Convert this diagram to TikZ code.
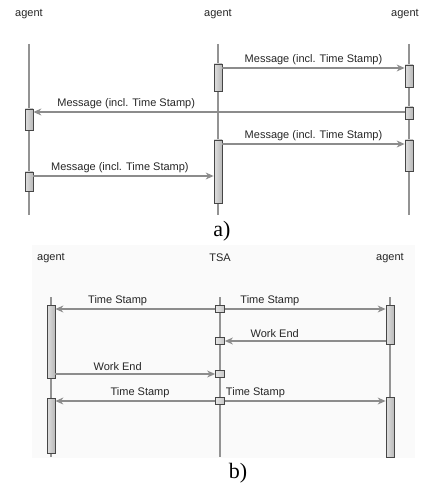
\documentclass[tikz,border=0pt]{standalone}
\usepackage{fontspec}
\setmainfont{Liberation Serif}
\setsansfont{Liberation Sans}
\usetikzlibrary{arrows.meta}

\begin{document}
\begin{tikzpicture}[x=1pt,y=-1pt,>={Stealth[length=8pt,width=7pt]},
  lbl/.style={font=\sffamily\fontsize{11}{13}\selectfont,text=black!85,inner sep=2.5pt},
  life/.style={draw=gray!85,line width=1.1pt},
  act/.style={draw=gray!55!black,left color=gray!25,right color=gray!55,minimum width=8pt,inner sep=0pt,line width=0.8pt},
  tsa/.style={draw=gray!55!black,left color=gray!20,right color=gray!45,minimum width=9pt,minimum height=7pt,inner sep=0pt,line width=0.8pt},
  msg/.style={->,draw=gray!90,line width=1.1pt},
  sub/.style={font=\fontsize{22}{24}\selectfont}]
  \useasboundingbox (0,0) rectangle (421,486);
  % a)
  \node[lbl] (ha1) at (29,14) {agent};
  \node[lbl] (ha2) at (218,14) {agent};
  \node[lbl] (ha3) at (405,14) {agent};
  \draw[life] (ha1 |- 0,44) -- (ha1 |- 0,215);
  \draw[life] (ha2 |- 0,44) -- (ha2 |- 0,215);
  \draw[life] (409,44) -- (409,215);
  \node[act,minimum height=27pt] (bm1) at (218,77.5) {};
  \node[act,minimum height=22pt] (br1) at (409,76) {};
  \node[act,minimum height=12pt] (br2) at (409,113) {};
  \node[act,minimum height=21pt] (bl1) at (29,119.5) {};
  \node[act,minimum height=63pt] (bm2) at (218,171.5) {};
  \node[act,minimum height=31pt] (br3) at (409,155.5) {};
  \node[act,minimum height=19pt] (bl2) at (29,181.5) {};
  \draw[msg] (bm1.east |- 0,68) -- node[lbl,above]{Message (incl. Time Stamp)} (br1.west |- 0,68);
  \draw[msg] (br2.west |- 0,112) -- node[lbl,above,pos=0.75]{Message (incl. Time Stamp)} (bl1.east |- 0,112);
  \draw[msg] (bm2.east |- 0,144) -- node[lbl,above]{Message (incl. Time Stamp)} (br3.west |- 0,144);
  \draw[msg] (bl2.east |- 0,176) -- node[lbl,above,pos=0.48]{Message (incl. Time Stamp)} (bm2.west |- 0,176);
  \node[sub] (sa) at (222,231) {a)};
  % b)
  \fill[black!2] (32,245) rectangle (415,458);
  \node[lbl] (hb1) at (51,258) {agent};
  \node[lbl] (hb2) at (220,258) {TSA};
  \node[lbl] (hb3) at (390,258) {agent};
  \draw[life] (hb1 |- 0,297) -- (hb1 |- 0,457);
  \draw[life] (hb2 |- 0,297) -- (hb2 |- 0,457);
  \draw[life] (hb3 |- 0,297) -- (hb3 |- 0,457);
  \node[act,minimum height=73pt] (cl1) at (51,341.5) {};
  \node[act,minimum height=55pt] (cl2) at (51,425.5) {};
  \node[act,minimum height=39pt] (cr1) at (390,324.5) {};
  \node[act,minimum height=60pt] (cr2) at (390,427) {};
  \node[tsa] (ct1) at (220,309) {};
  \node[tsa] (ct2) at (220,341) {};
  \node[tsa] (ct3) at (220,374) {};
  \node[tsa] (ct4) at (220,401) {};
  \draw[msg] (ct1.west) -- node[lbl,above,pos=0.61]{Time Stamp} (cl1.east |- ct1);
  \draw[msg] (ct1.east) -- node[lbl,above,pos=0.28]{Time Stamp} (cr1.west |- ct1);
  \draw[msg] (cr1.west |- ct2) -- node[lbl,above,pos=0.69]{Work End} (ct2.east);
  \draw[msg] (cl1.east |- ct3) -- node[lbl,above,pos=0.39]{Work End} (ct3.west);
  \draw[msg] (ct4.west) -- node[lbl,above,pos=0.47]{Time Stamp} (cl2.east |- ct4);
  \draw[msg] (ct4.east) -- node[lbl,above,pos=0.19]{Time Stamp} (cr2.west |- ct4);
  \node[sub] (sb) at (238,473) {b)};
\end{tikzpicture}
\end{document}
